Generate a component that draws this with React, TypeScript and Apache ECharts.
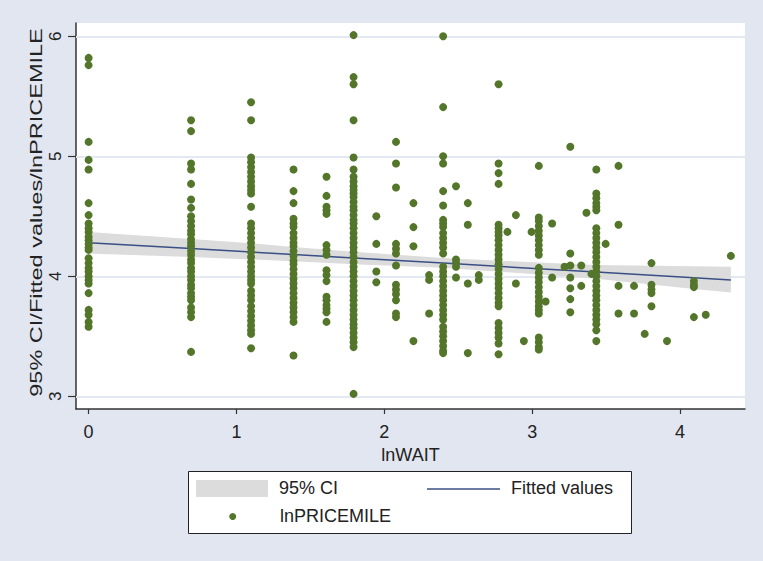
import React, { useEffect, useRef } from "react";
import * as echarts from "echarts";

// lnWAIT values of each column of observations
const colX = [
  0, 0.693, 1.099, 1.386, 1.609, 1.792, 1.946, 2.079, 2.197, 2.303, 2.398, 2.485, 2.565, 2.639,
  2.773, 2.833, 2.89, 2.944, 2.996, 3.045, 3.091, 3.135, 3.219, 3.258, 3.332, 3.367, 3.401,
  3.434, 3.497, 3.584, 3.689, 3.761, 3.807, 3.912, 4.094, 4.174, 4.344,
];

// lnPRICEMILE values observed in each column (same order as colX)
const colY = [
  [5.82, 5.76, 5.12, 4.97, 4.89, 4.61, 4.51, 4.44, 4.4, 4.37, 4.33, 4.3, 4.27, 4.24, 4.22, 4.15, 4.11, 4.07, 4.04, 4.0, 3.97, 3.94, 3.86, 3.72, 3.68, 3.62, 3.58],
  [5.3, 5.21, 4.94, 4.89, 4.77, 4.64, 4.57, 4.5, 4.46, 4.42, 4.38, 4.35, 4.31, 4.28, 4.25, 4.21, 4.18, 4.14, 4.11, 4.07, 4.04, 4.0, 3.97, 3.93, 3.9, 3.86, 3.83, 3.8, 3.74, 3.7, 3.66, 3.37],
  [5.45, 5.3, 4.99, 4.95, 4.91, 4.87, 4.83, 4.79, 4.75, 4.72, 4.69, 4.58, 4.44, 4.4, 4.36, 4.32, 4.28, 4.24, 4.2, 4.16, 4.12, 4.08, 4.04, 4.0, 3.97, 3.94, 3.88, 3.84, 3.8, 3.75, 3.71, 3.67, 3.63, 3.59, 3.55, 3.52, 3.4],
  [4.89, 4.71, 4.61, 4.48, 4.44, 4.41, 4.36, 4.32, 4.28, 4.25, 4.21, 4.17, 4.13, 4.1, 4.06, 4.02, 3.98, 3.94, 3.9, 3.86, 3.82, 3.78, 3.74, 3.7, 3.66, 3.62, 3.34],
  [4.83, 4.67, 4.58, 4.55, 4.52, 4.26, 4.22, 4.18, 4.05, 4.01, 3.96, 3.83, 3.8, 3.76, 3.73, 3.7, 3.62],
  [6.01, 5.66, 5.6, 5.3, 4.99, 4.89, 4.83, 4.79, 4.75, 4.72, 4.69, 4.66, 4.62, 4.58, 4.55, 4.51, 4.47, 4.44, 4.4, 4.36, 4.32, 4.28, 4.24, 4.2, 4.16, 4.12, 4.08, 4.04, 4.0, 3.96, 3.92, 3.88, 3.84, 3.8, 3.76, 3.72, 3.68, 3.64, 3.6, 3.57, 3.53, 3.49, 3.45, 3.41, 3.02],
  [4.5, 4.27, 4.04, 3.95],
  [5.12, 4.94, 4.74, 4.27, 4.23, 4.19, 4.09, 3.93, 3.89, 3.85, 3.8, 3.69, 3.66],
  [4.61, 4.41, 4.25, 3.46],
  [4.01, 3.97, 3.69],
  [6.0, 5.41, 5.0, 4.94, 4.71, 4.59, 4.47, 4.44, 4.41, 4.36, 4.32, 4.28, 4.24, 4.19, 4.08, 4.04, 4.0, 3.96, 3.92, 3.88, 3.84, 3.8, 3.76, 3.72, 3.68, 3.64, 3.58, 3.54, 3.5, 3.46, 3.42, 3.38, 3.36],
  [4.75, 4.14, 4.11, 4.08, 3.99],
  [4.61, 4.43, 3.94, 3.36],
  [4.01, 3.97],
  [5.6, 4.94, 4.86, 4.77, 4.43, 4.4, 4.37, 4.34, 4.3, 4.26, 4.22, 4.18, 4.14, 4.1, 4.06, 4.02, 3.98, 3.94, 3.9, 3.86, 3.82, 3.78, 3.75, 3.61, 3.57, 3.53, 3.49, 3.44, 3.35],
  [4.37],
  [4.51, 3.94],
  [3.46],
  [4.37],
  [4.92, 4.49, 4.46, 4.42, 4.38, 4.34, 4.3, 4.26, 4.22, 4.18, 4.07, 4.03, 3.99, 3.95, 3.91, 3.87, 3.83, 3.79, 3.75, 3.72, 3.69, 3.49, 3.45, 3.41, 3.39],
  [3.79],
  [4.44, 3.99],
  [4.08],
  [5.08, 4.19, 4.09, 3.99, 3.9, 3.81, 3.7],
  [4.09, 3.92],
  [4.53],
  [4.02],
  [4.89, 4.69, 4.65, 4.61, 4.58, 4.55, 4.4, 4.36, 4.32, 4.28, 4.24, 4.2, 4.16, 4.12, 4.08, 4.04, 4.0, 3.96, 3.92, 3.88, 3.84, 3.8, 3.76, 3.72, 3.68, 3.64, 3.6, 3.55, 3.46],
  [4.27],
  [4.92, 4.43, 3.92, 3.69],
  [3.92, 3.69],
  [3.52],
  [4.11, 3.93, 3.89, 3.86, 3.75],
  [3.46],
  [3.96, 3.93, 3.91, 3.66],
  [3.68],
  [4.17],
];

// Fitted values and 95% CI read at these lnWAIT values
const fitX = [0, 0.693, 1.099, 1.386, 1.792, 2.398, 3.045, 3.434, 4.094, 4.344];
const fitY = [4.28, 4.232, 4.202, 4.182, 4.152, 4.11, 4.063, 4.035, 3.988, 3.97];
const ciLow = [4.19, 4.16, 4.14, 4.125, 4.1, 4.072, 4.015, 3.98, 3.895, 3.865];
const ciHigh = [4.37, 4.31, 4.275, 4.245, 4.205, 4.152, 4.115, 4.095, 4.083, 4.08];

const xTicks = [0, 1, 2, 3, 4];
const yTicks = [3, 4, 5, 6];

const FONT = '"Liberation Sans", Arial, sans-serif';
const GREEN = "#53762a";
const NAVY = "#3a4f86";
const CI_GREY = "#dcdcdc";
const BG = "#e1e6f0";

export default function App() {
  const ref = useRef<HTMLDivElement>(null);

  useEffect(() => {
    if (!ref.current) return;
    const chart = echarts.init(ref.current, null, { renderer: "svg" });

    const scatterData: number[][] = [];
    colX.forEach((x, i) => {
      colY[i].forEach((y) => scatterData.push([x, y]));
    });

    const option: any = {
      animation: false,
      backgroundColor: BG,
      grid: {
        left: 76,
        top: 23,
        width: 669,
        height: 386,
        show: true,
        backgroundColor: "#ffffff",
        borderWidth: 0,
      },
      xAxis: {
        type: "value",
        min: -0.0852,
        max: 4.4396,
        axisLine: { show: true, onZero: false, lineStyle: { color: "#333", width: 1.5 } },
        axisTick: { show: true, customValues: xTicks, length: 5, lineStyle: { color: "#333", width: 1.2 } },
        axisLabel: {
          customValues: xTicks,
          fontSize: 18,
          fontFamily: FONT,
          color: "#222",
          margin: 14,
        },
        splitLine: { show: false },
        name: "lnWAIT",
        nameLocation: "middle",
        nameGap: 25,
        nameTextStyle: { fontSize: 18, fontFamily: FONT, color: "#222", lineHeight: 18 },
      },
      yAxis: {
        type: "value",
        min: 2.894,
        max: 6.111,
        axisLine: { show: true, onZero: false, lineStyle: { color: "#333", width: 1.5 } },
        axisTick: { show: true, customValues: yTicks, length: 8, lineStyle: { color: "#333", width: 1.2 } },
        axisLabel: {
          customValues: yTicks,
          rotate: 90,
          fontSize: 17,
          fontFamily: FONT,
          color: "#222",
          margin: 12,
        },
        splitLine: { show: false },
      },
      series: [
        {
          name: "95% CI",
          type: "custom",
          z: 2,
          data: fitX.map((x, i) => [x, ciLow[i], ciHigh[i]]),
          encode: { x: 0, y: [1, 2] },
          renderItem: (params: any, api: any) => {
            if (params.dataIndex !== 0) return null;
            const pts: number[][] = [];
            for (let i = 0; i < fitX.length; i++) pts.push(api.coord([fitX[i], ciHigh[i]]));
            for (let i = fitX.length - 1; i >= 0; i--) pts.push(api.coord([fitX[i], ciLow[i]]));
            return { type: "polygon", shape: { points: pts }, style: { fill: CI_GREY } };
          },
          markLine: {
            silent: true,
            symbol: ["none", "none"],
            label: { show: false },
            lineStyle: { color: "#e3e9f2", width: 2, type: "solid" },
            data: yTicks.map((v) => ({ yAxis: v })),
            z: 1,
          },
        },
        {
          name: "Fitted values",
          type: "line",
          z: 3,
          data: fitX.map((x, i) => [x, fitY[i]]),
          showSymbol: false,
          symbol: "none",
          lineStyle: { color: NAVY, width: 1.5 },
        },
        {
          name: "lnPRICEMILE",
          type: "scatter",
          z: 4,
          data: scatterData,
          symbol: "circle",
          symbolSize: 8,
          itemStyle: { color: GREEN, opacity: 1 },
        },
      ],
      graphic: [
        {
          type: "text",
          x: 36,
          y: 212.5,
          rotation: Math.PI / 2,
          scaleX: 1.47,
          style: {
            text: "95% CI/Fitted values/lnPRICEMILE",
            font: `16px ${FONT}`,
            fill: "#222",
            align: "center",
            verticalAlign: "middle",
            textAlign: "center",
            textVerticalAlign: "middle",
          },
        },
        {
          type: "rect",
          shape: { x: 188.5, y: 471.5, width: 443, height: 62 },
          style: { fill: "#ffffff", stroke: "#222", lineWidth: 1 },
        },
        {
          type: "rect",
          shape: { x: 196, y: 480, width: 72, height: 17 },
          style: { fill: CI_GREY },
        },
        {
          type: "text",
          x: 279,
          y: 488,
          style: {
            text: "95% CI",
            font: `18px ${FONT}`,
            fill: "#222",
            align: "left",
            verticalAlign: "middle",
            textAlign: "left",
            textVerticalAlign: "middle",
          },
        },
        {
          type: "line",
          shape: { x1: 427, y1: 489, x2: 500, y2: 489 },
          style: { stroke: NAVY, lineWidth: 1.5 },
        },
        {
          type: "text",
          x: 511,
          y: 488,
          style: {
            text: "Fitted values",
            font: `18px ${FONT}`,
            fill: "#222",
            align: "left",
            verticalAlign: "middle",
            textAlign: "left",
            textVerticalAlign: "middle",
          },
        },
        {
          type: "circle",
          shape: { cx: 232.7, cy: 516.5, r: 3.5 },
          style: { fill: GREEN },
        },
        {
          type: "text",
          x: 280,
          y: 515.5,
          style: {
            text: "lnPRICEMILE",
            font: `18px ${FONT}`,
            fill: "#222",
            align: "left",
            verticalAlign: "middle",
            textAlign: "left",
            textVerticalAlign: "middle",
          },
        },
      ],
    };

    chart.setOption(option);
    return () => chart.dispose();
  }, []);

  return (
    <div
      ref={ref}
      style={{ position: "fixed", left: 0, top: 0, width: 763, height: 561 }}
    />
  );
}
